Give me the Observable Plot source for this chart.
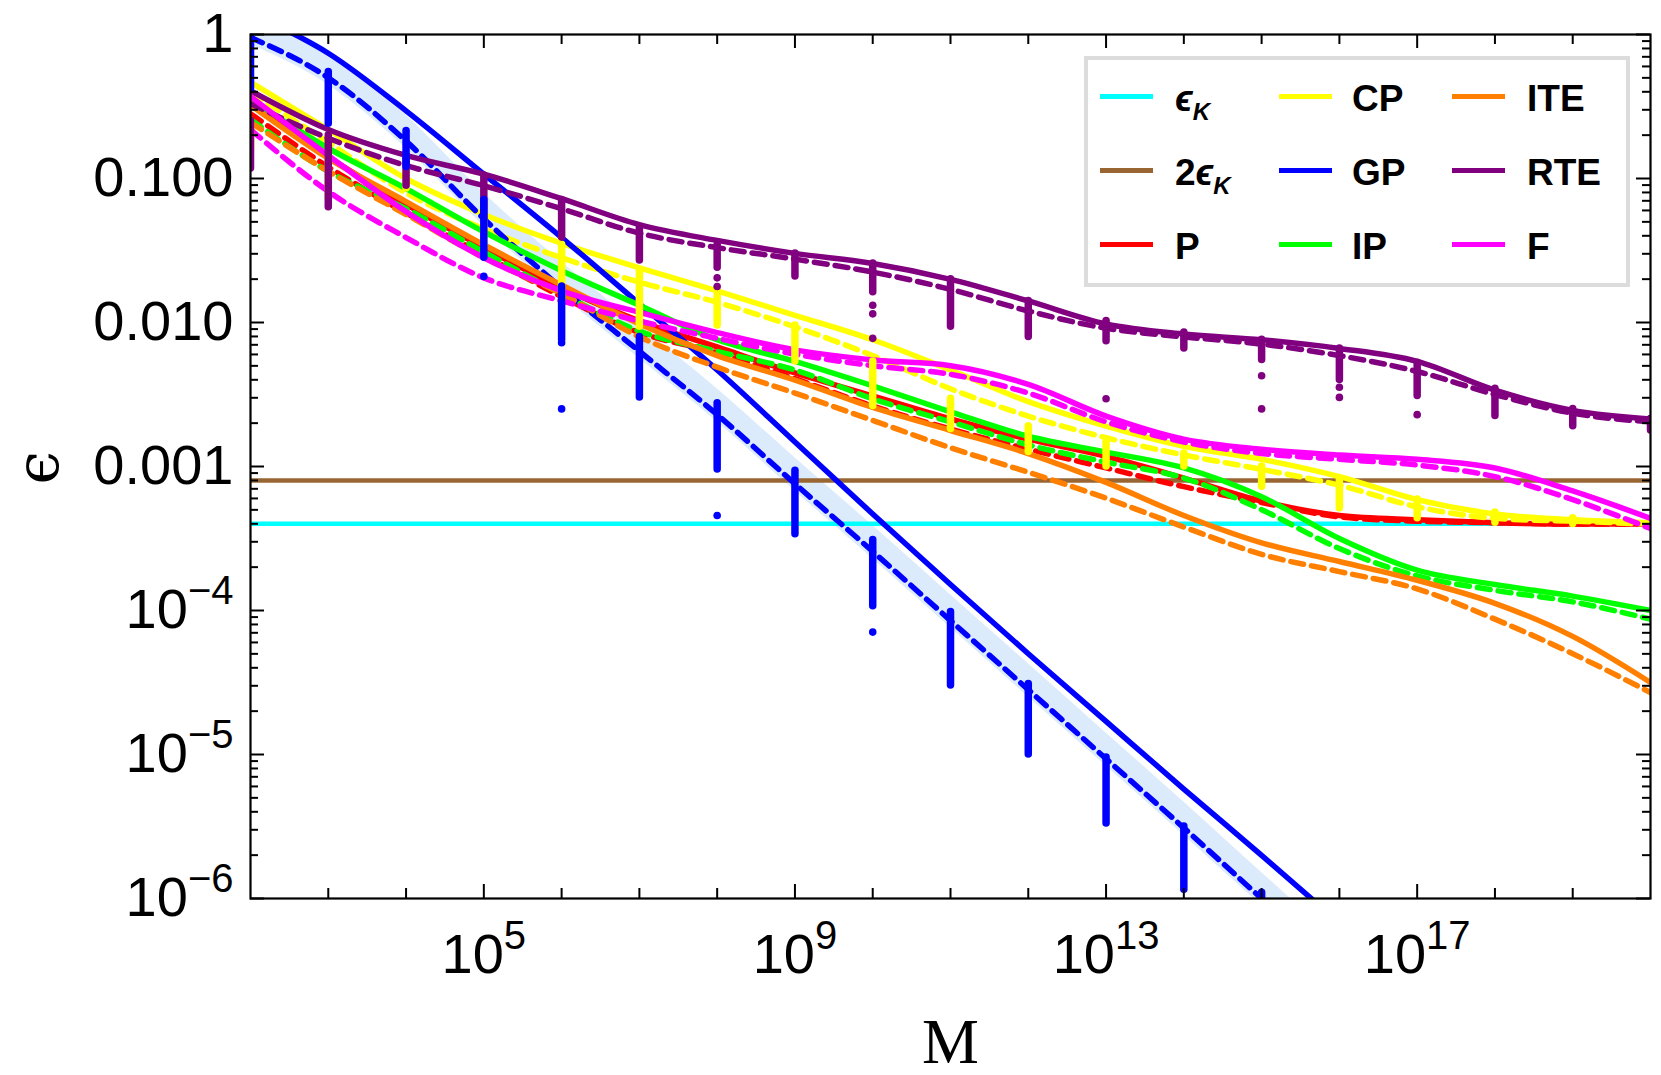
<!DOCTYPE html>
<html><head><meta charset="utf-8">
<script src="https://cdn.jsdelivr.net/npm/d3@7"></script>
<script src="https://cdn.jsdelivr.net/npm/@observablehq/plot@0.6"></script>
<style>
body{margin:0;background:#fff;}
#wrap{position:relative;width:1661px;height:1075px;}
#legend{position:absolute;left:1084px;top:56px;width:546px;height:231px;box-sizing:border-box;border:4px solid #dcdcdc;background:#fff;}
.lg-line{position:absolute;width:53px;height:5px;}
.lg-text{position:absolute;font-family:"Liberation Sans",Arial,sans-serif;font-weight:bold;font-size:37px;line-height:40px;height:40px;white-space:nowrap;color:#000;}
.lg-sub{font-size:24px;position:relative;top:9px;}
</style></head><body>
<div id="wrap"><div id="chart"></div><div id="legend"></div></div>
<script>
// ---------- data (log10 M exponents, log10 epsilon values) ----------
const K = [2,3,4,5,6,7,8,9,10,11,12,13,14,15,16,17,18,19,20];
const K_GP = [2,3,4,5,6,7,8,9,10,11,12,13,14,15,16];

const P_solid   = [-0.47,-0.85,-1.18,-1.48,-1.76,-1.99,-2.17,-2.35,-2.51,-2.67,-2.81,-2.93,-3.08,-3.24,-3.34,-3.37,-3.39,-3.40,-3.40];
const P_dashed  = [-0.55,-0.92,-1.24,-1.53,-1.82,-2.07,-2.21,-2.39,-2.58,-2.74,-2.88,-3.01,-3.14,-3.25,-3.35,-3.38,-3.39,-3.40,-3.40];
const CP_solid  = [-0.33,-0.66,-1.00,-1.25,-1.45,-1.62,-1.78,-1.95,-2.12,-2.33,-2.55,-2.72,-2.86,-2.95,-3.07,-3.23,-3.33,-3.37,-3.39];
const CP_dashed = [-0.40,-0.75,-1.10,-1.35,-1.55,-1.72,-1.86,-2.03,-2.23,-2.46,-2.65,-2.80,-2.92,-3.02,-3.13,-3.28,-3.36,-3.38,-3.40];
const GP_solid  = [0.15,-0.13,-0.53,-0.97,-1.41,-1.87,-2.33,-2.83,-3.33,-3.82,-4.30,-4.77,-5.24,-5.70,-6.17];
const GP_dashed = [-0.02,-0.30,-0.74,-1.28,-1.76,-2.20,-2.64,-3.12,-3.59,-4.07,-4.55,-5.03,-5.51,-6.00,-6.48];
const GP_bandLow  = [-0.07,-0.35,-0.79,-1.33,-1.81,-2.25,-2.69,-3.17,-3.64,-4.12,-4.60,-5.08,-5.56,-6.05,-6.53];
const GP_bandHigh = [0.16,-0.12,-0.56,-1.10,-1.58,-2.02,-2.46,-2.94,-3.41,-3.89,-4.37,-4.85,-5.33,-5.82,-6.30];
const IP_solid  = [-0.45,-0.79,-1.07,-1.37,-1.64,-1.88,-2.12,-2.27,-2.44,-2.62,-2.79,-2.90,-3.01,-3.21,-3.50,-3.72,-3.82,-3.90,-4.00];
const IP_dashed = [-0.59,-0.95,-1.21,-1.51,-1.80,-2.06,-2.20,-2.33,-2.53,-2.69,-2.85,-2.97,-3.08,-3.30,-3.57,-3.76,-3.86,-3.94,-4.06];
const ITE_solid = [-0.49,-0.86,-1.16,-1.46,-1.74,-2.01,-2.23,-2.40,-2.59,-2.75,-2.91,-3.11,-3.34,-3.53,-3.66,-3.79,-3.95,-4.18,-4.50];
const ITE_dashed= [-0.61,-0.95,-1.25,-1.55,-1.80,-2.10,-2.31,-2.49,-2.68,-2.87,-3.04,-3.22,-3.42,-3.61,-3.73,-3.85,-4.06,-4.30,-4.57];
const RTE_solid = [-0.39,-0.66,-0.84,-0.97,-1.14,-1.32,-1.43,-1.52,-1.59,-1.70,-1.85,-2.01,-2.08,-2.12,-2.18,-2.27,-2.47,-2.61,-2.67];
const RTE_dashed= [-0.48,-0.72,-0.91,-1.05,-1.21,-1.38,-1.48,-1.56,-1.65,-1.77,-1.92,-2.04,-2.10,-2.15,-2.23,-2.34,-2.50,-2.63,-2.69];
const F_solid   = [-0.43,-0.84,-1.23,-1.55,-1.78,-1.93,-2.07,-2.19,-2.26,-2.30,-2.43,-2.65,-2.81,-2.88,-2.92,-2.95,-3.01,-3.17,-3.36];
const F_dashed  = [-0.66,-1.09,-1.41,-1.69,-1.85,-1.99,-2.11,-2.22,-2.30,-2.36,-2.49,-2.69,-2.83,-2.91,-2.95,-2.99,-3.07,-3.23,-3.43];

const epsK = 4e-4;

// sample clusters at each decade: exponent, top, bottom
const GP_clusterK   = [2,3,4,5,6,7,8,9,10,11,12,13,14,15];
const GP_clusterTop = [-0.02,-0.26,-0.67,-1.15,-1.75,-2.10,-2.56,-3.03,-3.51,-4.01,-4.51,-5.02,-5.50,-5.96];
const GP_clusterBot = [-0.38,-0.62,-0.92,-1.55,-2.12,-2.52,-3.02,-3.47,-3.97,-4.52,-5.00,-5.48,-5.94,-6.20];
const GP_outK   = [5,6,6,8,10];
const GP_outVal = [-1.68,-2.14,-2.60,-3.34,-4.15];

const RTE_clusterK   = [2,3,4,5,6,7,8,9,10,11,12,13,14,15,16,17,18,19,20];
const RTE_clusterTop = [-0.60,-0.70,-0.84,-0.98,-1.15,-1.34,-1.46,-1.52,-1.59,-1.70,-1.85,-1.99,-2.07,-2.12,-2.18,-2.28,-2.46,-2.60,-2.67];
const RTE_clusterBot = [-0.93,-1.20,-1.05,-1.28,-1.41,-1.57,-1.62,-1.68,-1.79,-2.03,-2.10,-2.13,-2.18,-2.26,-2.40,-2.51,-2.65,-2.72,-2.75];
const RTE_outK   = [8,8,10,10,10,13,15,15,16,16,17];
const RTE_outVal = [-1.69,-1.75,-1.88,-1.94,-2.11,-2.53,-2.37,-2.60,-2.45,-2.52,-2.64];

const CP_clusterK   = [2,3,4,5,6,7,8,9,10,11,12,13,14,15,16,17,18,19];
const CP_clusterTop = [-0.62,-0.86,-0.95,-1.28,-1.46,-1.64,-1.81,-2.02,-2.27,-2.53,-2.72,-2.83,-2.91,-3.00,-3.09,-3.23,-3.32,-3.36];
const CP_clusterBot = [-0.80,-1.14,-1.07,-1.46,-1.85,-2.03,-2.02,-2.27,-2.58,-2.74,-2.90,-3.00,-3.00,-3.14,-3.29,-3.36,-3.39,-3.40];

// axes
const xLabelExp = [5,9,13,17];
const xMinorExp = [3,4,6,7,8,10,11,12,14,15,16,18,19];
const yMajor = [1e-6,1e-5,1e-4,1e-3,1e-2,1e-1,1];
const yLabels = ["10^\u22126","10^\u22125","10^\u22124","0.001","0.010","0.100","1"];
const yMinorMult = [2,3,4,5,6,7,8,9];
const yMinorExp = [-6,-5,-4,-3,-2,-1];

// legend
const legendLabels = ["\u03F5_K","2\u03F5_K","P","CP","GP","IP","ITE","RTE","F"];
const legendColors = ["#00ffff","#996633","#ff0000","#ffff00","#0000ff","#00ff00","#ff8000","#800080","#ff00ff"];

// ---------- build ----------
const colors = {P:"#ff0000", CP:"#ffff00", GP:"#0000ff", IP:"#00ff00", ITE:"#ff8000", RTE:"#800080", F:"#ff00ff"};
const toRows = (ks, vals) => ks.map((k, i) => ({M: 10 ** k, e: 10 ** vals[i]}));
const series = [
  ["P", P_solid, P_dashed, K], ["CP", CP_solid, CP_dashed, K], ["GP", GP_solid, GP_dashed, K_GP],
  ["IP", IP_solid, IP_dashed, K], ["ITE", ITE_solid, ITE_dashed, K], ["RTE", RTE_solid, RTE_dashed, K],
  ["F", F_solid, F_dashed, K]
];
const W = 1661, H = 1075, mL = 250, mR = 11, mT = 34, mB = 177;
const plotW = W - mL - mR, plotH = H - mT - mB;
const yMinor = yMinorExp.flatMap(e => yMinorMult.map(m => m * 10 ** e));

const band = K_GP.map((k, i) => ({M: 10 ** k, lo: 10 ** GP_bandLow[i], hi: 10 ** GP_bandHigh[i]}));
const clusters = (ks, top, bot) => ks.map((k, i) => ({M: 10 ** k, t: 10 ** top[i], b: 10 ** bot[i]}));

const marks = [];
marks.push(Plot.areaY(band, {x: "M", y1: "lo", y2: "hi", fill: "#dcebfb", curve: "monotone-x", clip: true}));
marks.push(Plot.ruleY([2 * epsK], {y: d => d, stroke: "#996633", strokeWidth: 4.5}));
marks.push(Plot.ruleY([epsK], {y: d => d, stroke: "#00ffff", strokeWidth: 4.5}));
for (const [name, solid, dashed, ks] of series) {
  marks.push(Plot.line(toRows(ks, dashed), {x: "M", y: "e", stroke: colors[name], strokeWidth: 5.5, strokeDasharray: "13,8", curve: "monotone-x", clip: true}));
  marks.push(Plot.line(toRows(ks, solid), {x: "M", y: "e", stroke: colors[name], strokeWidth: 5.5, curve: "monotone-x", clip: true}));
}
const clusterSets = [
  [CP_clusterK, CP_clusterTop, CP_clusterBot, colors.CP, [], []],
  [RTE_clusterK, RTE_clusterTop, RTE_clusterBot, colors.RTE, RTE_outK, RTE_outVal],
  [GP_clusterK, GP_clusterTop, GP_clusterBot, colors.GP, GP_outK, GP_outVal]
];
for (const [ks, top, bot, c, ok, ov] of clusterSets) {
  marks.push(Plot.ruleX(clusters(ks, top, bot), {x: "M", y1: "t", y2: "b", stroke: c, strokeWidth: 7.5, strokeLinecap: "round", clip: true}));
  marks.push(Plot.dot(toRows(ok, ov), {x: "M", y: "e", r: 3.8, fill: c, stroke: null, clip: true}));
}
// frame + inward ticks on all four sides
marks.push(Plot.frame({stroke: "black", strokeWidth: 2.2}));
const tk = {stroke: "black", strokeWidth: 2};
marks.push(Plot.ruleX(xMinorExp, {x: d => 10 ** d, insetTop: plotH - 10, ...tk}));
marks.push(Plot.ruleX(xMinorExp, {x: d => 10 ** d, insetBottom: plotH - 10, ...tk}));
marks.push(Plot.ruleX(xLabelExp, {x: d => 10 ** d, insetTop: plotH - 14, ...tk}));
marks.push(Plot.ruleX(xLabelExp, {x: d => 10 ** d, insetBottom: plotH - 14, ...tk}));
marks.push(Plot.ruleY(yMinor, {y: d => d, insetRight: plotW - 8, ...tk}));
marks.push(Plot.ruleY(yMinor, {y: d => d, insetLeft: plotW - 8, ...tk}));
marks.push(Plot.ruleY(yMajor, {y: d => d, insetRight: plotW - 14, ...tk}));
marks.push(Plot.ruleY(yMajor, {y: d => d, insetLeft: plotW - 14, ...tk}));
// tick labels
const sans = "Liberation Sans, Arial, sans-serif";
marks.push(Plot.text(xLabelExp, {x: d => 10 ** d, frameAnchor: "bottom", dy: 74, lineAnchor: "bottom", text: d => "10^" + d, fontSize: 56, fontFamily: sans, fill: "black"}));
marks.push(Plot.text(yMajor, {y: d => d, frameAnchor: "left", dx: -17, textAnchor: "end", text: (d, i) => yLabels[i], fontSize: 56, fontFamily: sans, fill: "black"}));
// axis titles
marks.push(Plot.text(["M"], {frameAnchor: "bottom", dy: 164, lineAnchor: "bottom", text: d => d, fontSize: 64, fontFamily: "Liberation Serif, Times New Roman, serif", fill: "black"}));
marks.push(Plot.text(["\u03F5"], {frameAnchor: "left", dx: -212, dy: 18, rotate: -90, text: d => d, fontSize: 60, fontFamily: "DejaVu Serif, Liberation Serif, serif", fill: "black"}));

const chart = Plot.plot({
  width: W, height: H, marginLeft: mL, marginRight: mR, marginTop: mT, marginBottom: mB,
  x: {type: "log", domain: [1e2, 1e20], axis: null},
  y: {type: "log", domain: [1e-6, 1], axis: null},
  style: {background: "white", overflow: "visible"},
  marks
});
document.getElementById("chart").appendChild(chart);

// superscripts in tick labels ("10^5" -> 10 with raised 5)
chart.querySelectorAll("text").forEach(t => {
  const s = t.textContent, i = s.indexOf("^");
  if (i < 0) return;
  t.textContent = s.slice(0, i);
  const ts = document.createElementNS("http://www.w3.org/2000/svg", "tspan");
  ts.setAttribute("dy", "-24");
  ts.setAttribute("font-size", "40");
  ts.textContent = s.slice(i + 1);
  t.appendChild(ts);
});

// legend (3 columns x 3 rows, column-major)
const lg = document.getElementById("legend");
const rowY = [36, 110, 184], colLine = [12, 191, 364], colText = [87, 264, 439];
legendLabels.forEach((lab, i) => {
  const c = Math.floor(i / 3), r = i % 3;
  const line = document.createElement("div");
  line.className = "lg-line";
  line.style.left = colLine[c] + "px";
  line.style.top = (rowY[r] - 2.5) + "px";
  line.style.background = legendColors[i];
  lg.appendChild(line);
  const tx = document.createElement("div");
  tx.className = "lg-text";
  tx.style.left = colText[c] + "px";
  tx.style.top = (rowY[r] + 3 - 20) + "px";
  const u = lab.indexOf("_");
  if (u < 0) tx.textContent = lab;
  else {
    const pre = lab.slice(0, u), base = pre.replace("\u03F5", ""), sub = lab.slice(u + 1);
    tx.innerHTML = base + '<i>\u03F5<span class="lg-sub">' + sub + '</span></i>';
  }
  lg.appendChild(tx);
});
</script></body></html>
